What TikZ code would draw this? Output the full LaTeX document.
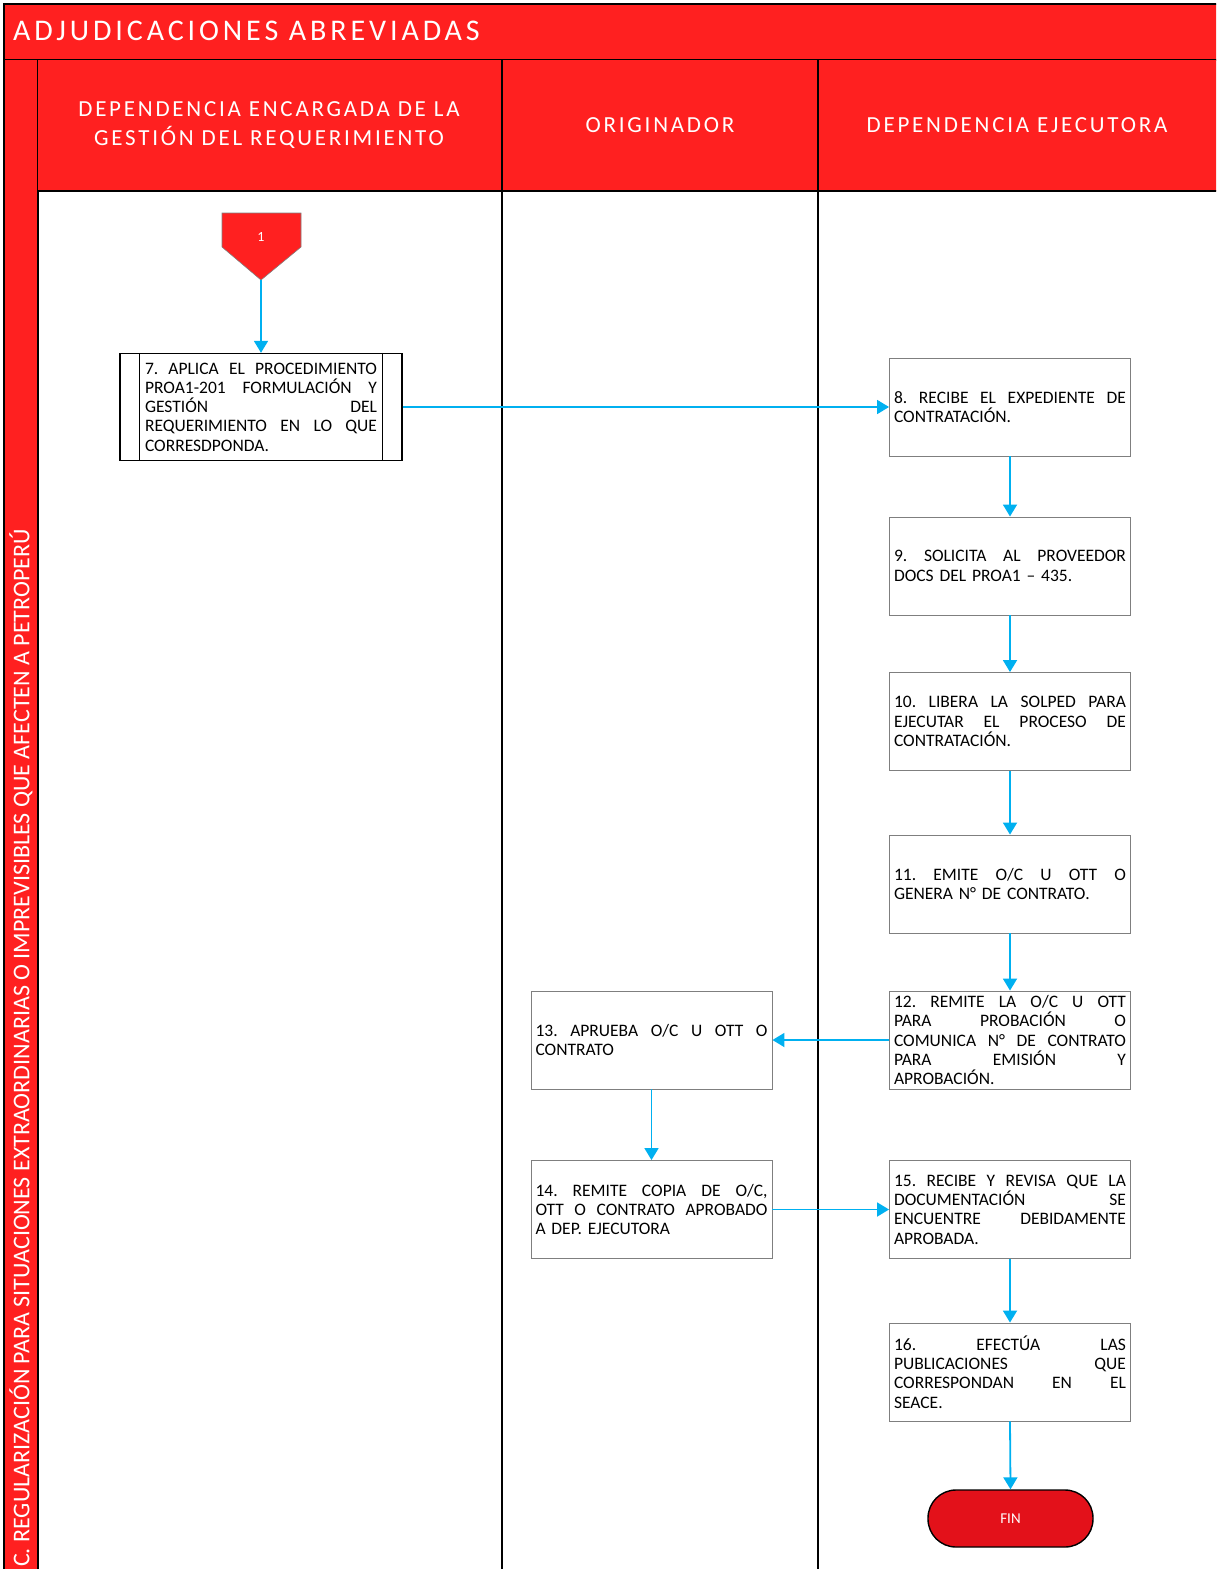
\documentclass[tikz,border=0pt]{standalone}
\usepackage{fontspec}
\setmainfont{Carlito}
\usetikzlibrary{arrows.meta}
\setlength\parindent{0pt}
\definecolor{hdrred}{HTML}{FF2020}
\definecolor{finred}{HTML}{E3111A}
\definecolor{flow}{HTML}{00B0F0}
\definecolor{boxgray}{HTML}{7F7F7F}
\newcommand{\jl}[1]{\leavevmode\makebox[232pt][s]{#1}\\}
\newcommand{\g}{\hfill}
\tikzset{
  hdrtext/.style={text=white, font=\fontsize{23}{29}\selectfont\addfontfeature{LetterSpace=12}, align=center},
  stepbox/.style={draw=boxgray, line width=0.9pt, fill=white, minimum width=241pt, minimum height=98pt,
    text width=232pt, inner sep=0pt, align=left, font=\fontsize{17.5}{19.3}\selectfont},
  arr/.style={draw=flow, line width=1.8pt, -{Triangle[length=12pt,width=14pt]}},
  lane/.style={draw=black, line width=1.6pt}
}
\begin{document}
\begin{tikzpicture}[x=1pt,y=-1pt]
\useasboundingbox (0,0) rectangle (1216,1569);
\clip (0,0) rectangle (1216,1569);
% title bar
\fill[hdrred] (4,4) rectangle (1220,60);
\draw[line width=1.6pt] (1220,4) -- (4,4) -- (4,1575);
\draw[line width=1.6pt] (4,60) -- (1220,60);
\node[anchor=west, text=white, font=\fontsize{30}{36}\selectfont\addfontfeature{LetterSpace=13}, inner sep=0pt] (title) at (13,31) {ADJUDICACIONES ABREVIADAS};
% left strip
\fill[hdrred] (4,60) rectangle (38,1575);
\draw[lane] (38,60) -- (38,1575);
\draw[lane] (4,60) -- (4,1575);
\node[rotate=90, anchor=west, text=white, font=\fontsize{24}{28}\selectfont, inner sep=0pt] (side) at (21,1567)
  {C. REGULARIZACIÓN PARA SITUACIONES EXTRAORDINARIAS O IMPREVISIBLES QUE AFECTEN A PETROPERÚ};
% header row
\fill[hdrred] (38,60) rectangle (1220,191);
\draw[lane] (38,191) -- (1220,191);
\draw[lane] (502,60) -- (502,1575);
\draw[lane] (818,60) -- (818,1575);
\node[hdrtext] (h1) at (269,125) {DEPENDENCIA ENCARGADA DE LA\\GESTIÓN DEL REQUERIMIENTO};
\node[hdrtext] (h2) at (660,125) {ORIGINADOR};
\node[hdrtext] (h3) at (1017,125) {DEPENDENCIA EJECUTORA};
% off-page connector
\draw[fill=hdrred, draw=boxgray, line width=0.6pt] (222,213) -- (301,213) -- (301,247) -- (261,280) -- (222,247) -- cycle;
\node[text=white, font=\fontsize{14}{16}\selectfont] (c1) at (261,237) {1};
\coordinate (c1tip) at (261,280);
% box 7 predefined process
\node[draw=black, line width=1.4pt, minimum width=282pt, minimum height=107pt, text width=232pt, inner sep=0pt,
  align=left, font=\fontsize{17.5}{19.3}\selectfont] (b7) at (261,407)
  {\jl{7.\g APLICA\g EL\g PROCEDIMIENTO}\jl{PROA1-201\g FORMULACIÓN\g Y}\jl{GESTIÓN\g DEL}\jl{REQUERIMIENTO\g EN\g LO\g QUE}CORRESDPONDA.};
\draw[line width=1.4pt] ([xshift=20pt]b7.north west) -- ([xshift=20pt]b7.south west);
\draw[line width=1.4pt] ([xshift=-20pt]b7.north east) -- ([xshift=-20pt]b7.south east);
% dependencia ejecutora boxes
\node[stepbox] (b8) at (1010,407) {\jl{8.\g RECIBE\g EL\g EXPEDIENTE\g DE}CONTRATACIÓN.};
\node[stepbox] (b9) at (1010,566) {\jl{9.\g SOLICITA\g AL\g PROVEEDOR}DOCS DEL PROA1 – 435.};
\node[stepbox] (b10) at (1010,721.5) {\jl{10.\g LIBERA\g LA\g SOLPED\g PARA}\jl{EJECUTAR\g EL\g PROCESO\g DE}CONTRATACIÓN.};
\node[stepbox] (b11) at (1010,884) {\jl{11.\g EMITE\g O/C\g U\g OTT\g O}GENERA N° DE CONTRATO.};
\node[stepbox] (b12) at (1010,1040) {\jl{12.\g REMITE\g LA\g O/C\g U\g OTT}\jl{PARA\g PROBACIÓN\g O}\jl{COMUNICA\g N°\g DE\g CONTRATO}\jl{PARA\g EMISIÓN\g Y}APROBACIÓN.};
\node[stepbox] (b13) at (651.5,1040) {\jl{13.\g APRUEBA\g O/C\g U\g OTT\g O}CONTRATO};
\node[stepbox] (b14) at (651.5,1209.5) {\jl{14.\g REMITE\g COPIA\g DE\g O/C,}\jl{OTT\g O\g CONTRATO\g APROBADO}A DEP. EJECUTORA};
\node[stepbox] (b15) at (1010,1209.5) {\jl{15.\g RECIBE\g Y\g REVISA\g QUE\g LA}\jl{DOCUMENTACIÓN\g SE}\jl{ENCUENTRE\g DEBIDAMENTE}APROBADA.};
\node[stepbox] (b16) at (1010,1372) {\jl{16.\g EFECTÚA\g LAS}\jl{PUBLICACIONES\g QUE}\jl{CORRESPONDAN\g EN\g EL}SEACE.};
\node[draw=black, line width=1.4pt, fill=finred, rounded corners=28pt, minimum width=165pt, minimum height=57pt,
  text=white, font=\fontsize{15}{18}\selectfont] (fin) at (1010.5,1518.5) {FIN};
% connectors
\draw[arr] (c1tip) -- (b7.north);
\draw[arr] (b7.east) -- (b8.west);
\draw[arr] (b8.south) -- (b9.north);
\draw[arr] (b9.south) -- (b10.north);
\draw[arr] (b10.south) -- (b11.north);
\draw[arr] (b11.south) -- (b12.north);
\draw[arr] (b12.west) -- (b13.east);
\draw[arr] (b13.south) -- (b14.north);
\draw[arr] (b14.east) -- (b15.west);
\draw[arr] (b15.south) -- (b16.north);
\draw[arr] (b16.south) -- (fin.north);
\end{tikzpicture}
\end{document}
